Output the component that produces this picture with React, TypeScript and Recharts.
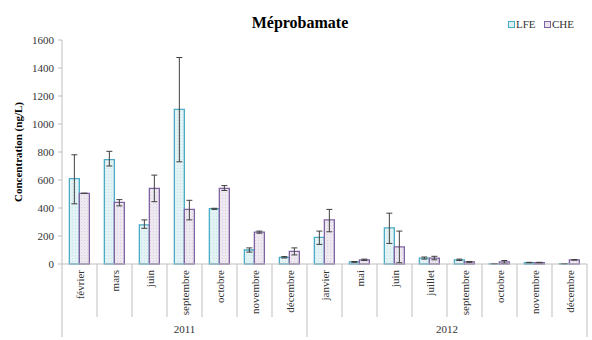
import { BarChart, Bar, XAxis, YAxis, ErrorBar, Legend } from "recharts";

// Méprobamate - concentrations mesurées (ng/L)
const months = [
  "février", "mars", "juin", "septembre", "octobre", "novembre", "décembre",
  "janvier", "mai", "juin", "juillet", "septembre", "octobre", "novembre", "décembre"
];
const years = ["2011", "2011", "2011", "2011", "2011", "2011", "2011",
  "2012", "2012", "2012", "2012", "2012", "2012", "2012", "2012"];

const lfe = [610, 745, 280, 1105, 395, 100, 48, 190, 15, 258, 42, 30, 2, 10, 2];
const lfeLow = [430, 700, 255, 730, 390, 85, 43, 140, 12, 147, 35, 25, 2, 8, 2];
const lfeHigh = [780, 805, 315, 1475, 398, 115, 53, 235, 18, 363, 50, 35, 2, 12, 2];

const che = [505, 440, 540, 390, 540, 228, 90, 315, 30, 123, 42, 15, 15, 10, 30];
const cheLow = [505, 415, 445, 315, 525, 220, 65, 230, 25, 9, 30, 12, 5, 8, 28];
const cheHigh = [505, 460, 635, 455, 560, 235, 115, 390, 35, 235, 55, 18, 25, 12, 32];

const yTicks = [0, 200, 400, 600, 800, 1000, 1200, 1400, 1600];

const data = months.map((m, i) => ({
  key: `${years[i]}-${i}`,
  month: m,
  year: years[i],
  LFE: lfe[i],
  lfeErr: [lfe[i] - lfeLow[i], lfeHigh[i] - lfe[i]],
  CHE: che[i],
  cheErr: [che[i] - cheLow[i], cheHigh[i] - che[i]]
}));

const FONT = '"Liberation Serif", "Times New Roman", serif';
const GRID = "#bfbfbf";

const MonthTick = (props: any) => {
  const { x, y, payload } = props;
  const i = payload.index;
  const half = payload.offset || 17.5;
  const left = x - half;
  const groupStart = i === 0 || years[i] !== years[i - 1];
  const last = i === months.length - 1;
  let yearLabel = null;
  if (groupStart) {
    const count = years.filter((yr) => yr === years[i]).length;
    const cx = left + count * half;
    yearLabel = (
      <text x={cx} y={y + 69} textAnchor="middle" fontSize={11} fontFamily={FONT} fill="#333">
        {years[i]}
      </text>
    );
  }
  return (
    <g>
      <text
        transform={`translate(${x + 4},${y + 6}) rotate(-90)`}
        textAnchor="end"
        fontSize={11}
        fontFamily={FONT}
        fill="#333"
      >
        {months[i]}
      </text>
      <line x1={left} y1={y} x2={left} y2={groupStart ? y + 73 : y + 53} stroke={GRID} />
      {last && <line x1={x + half} y1={y} x2={x + half} y2={y + 73} stroke={GRID} />}
      {yearLabel}
    </g>
  );
};

const legendItems = [
  { name: "LFE", stroke: "#4bacc6", fill: "#dcf0f3" },
  { name: "CHE", stroke: "#8064a2", fill: "#e9e3ef" }
];

const LegendContent = () => (
  <div style={{ display: "flex", whiteSpace: "nowrap", fontFamily: FONT, fontSize: 11, color: "#333", lineHeight: "12px" }}>
    {legendItems.map((it) => (
      <span key={it.name} style={{ display: "inline-flex", alignItems: "center", flexShrink: 0, width: 36 }}>
        <span style={{ width: 5, height: 5, border: `1px solid ${it.stroke}`, background: it.fill, marginRight: 1, flexShrink: 0 }} />
        {it.name}
      </span>
    ))}
  </div>
);

export default function App() {
  return (
    <div style={{ position: "absolute", left: 0, top: 0, width: 592, height: 340, background: "#fff" }}>
      <div
        style={{
          position: "absolute",
          top: 14,
          left: 0,
          width: 600,
          textAlign: "center",
          fontFamily: FONT,
          fontWeight: "bold",
          fontSize: 16,
          color: "#000"
        }}
      >
        Méprobamate
      </div>
      <BarChart
        width={592}
        height={340}
        data={data}
        margin={{ top: 40, right: 5, left: 0, bottom: 0 }}
        barCategoryGap="21%"
        barGap={0}
      >
        <defs>
          <pattern id="dotsLFE" width="3" height="3" patternUnits="userSpaceOnUse">
            <rect width="3" height="3" fill="#e3f2f5" />
            <rect width="1" height="1" fill="#c9e6eb" />
          </pattern>
          <pattern id="dotsCHE" width="3" height="3" patternUnits="userSpaceOnUse">
            <rect width="3" height="3" fill="#eee9f1" />
            <rect width="1" height="1" fill="#dbd1e3" />
          </pattern>
        </defs>
        <XAxis
          dataKey="key"
          height={76}
          interval={0}
          tickSize={0}
          tickMargin={0}
          stroke={GRID}
          tick={<MonthTick />}
        />
        <YAxis
          width={62}
          domain={[0, 1600]}
          ticks={yTicks}
          tickSize={4}
          tickMargin={4}
          stroke={GRID}
          tick={{ fontSize: 11, fontFamily: FONT, fill: "#333" }}
          label={{
            value: "Concentration (ng/L)",
            angle: -90,
            position: "insideLeft",
            offset: 18,
            style: { textAnchor: "middle", fontSize: 11, fontWeight: "bold", fontFamily: FONT, fill: "#000" }
          }}
        />
        <Legend
          layout="horizontal"
          verticalAlign="middle"
          align="center"
          wrapperStyle={{ top: 18, left: 508, width: 80 }}
          content={<LegendContent />}
        />
        <Bar dataKey="LFE" fill="url(#dotsLFE)" stroke="#4bacc6" strokeWidth={1.3} isAnimationActive={false}>
          <ErrorBar dataKey="lfeErr" width={3} stroke="#404040" strokeWidth={1} direction="y" />
        </Bar>
        <Bar dataKey="CHE" fill="url(#dotsCHE)" stroke="#8064a2" strokeWidth={1.3} isAnimationActive={false}>
          <ErrorBar dataKey="cheErr" width={3} stroke="#404040" strokeWidth={1} direction="y" />
        </Bar>
      </BarChart>
    </div>
  );
}
